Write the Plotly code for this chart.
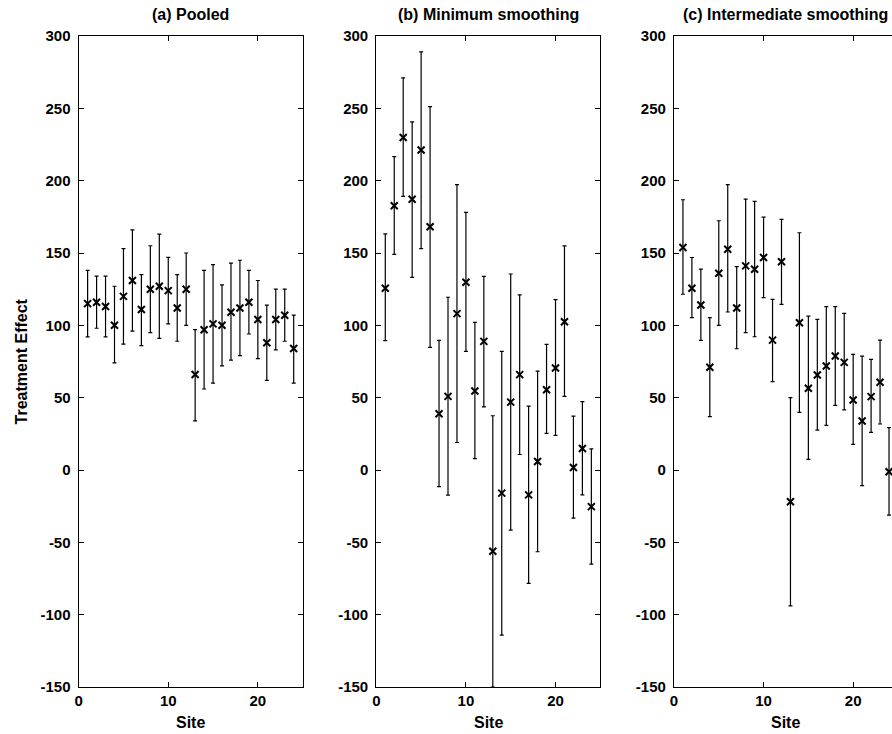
import plotly.graph_objects as go

sites = list(range(1, 25))

# (a) Pooled
est_a = [115, 116, 113, 100, 120, 131, 111, 125, 127, 124, 112, 125,
         66, 97, 101, 100, 109, 112, 116, 104, 88, 104, 107, 84]
up_a = [138, 134, 134, 127, 153, 166, 135, 155, 163, 147, 135, 150,
        97, 138, 142, 128, 143, 145, 138, 131, 114, 125, 125, 107]
lo_a = [92, 98, 92, 74, 87, 96, 86, 95, 91, 101, 89, 100,
        34, 56, 60, 72, 76, 79, 94, 77, 62, 83, 89, 60]

# (b) Minimum smoothing
est_b = [125.6, 182.7, 229.8, 187.1, 221.2, 168.1, 38.9, 50.9, 108.1, 129.8, 54.6, 88.9,
         -56.2, -16, 46.9, 65.9, -17.2, 5.9, 55.5, 70.5, 102.5, 1.7, 14.9, -25.3]
up_b = [163.2, 216.6, 271.1, 240.7, 289, 251.2, 89.6, 119.4, 197.3, 178.1, 102.1, 133.9,
        37.5, 82, 135.5, 121, 44.2, 68.4, 86.8, 117.8, 154.9, 37.2, 47.2, 14.6]
lo_b = [89.4, 149.1, 189.2, 133.2, 153, 84.8, -11.5, -17.3, 19, 82, 7.9, 43.7,
        -150, -114.2, -41.5, 10.7, -78.4, -56.5, 25.3, 23.9, 50.9, -33.2, -17.2, -65]

# (c) Intermediate smoothing
est_c = [153.8, 125.6, 114.1, 71, 136, 152.6, 112, 141.1, 138.8, 146.9, 89.8, 143.9,
         -22, 101.8, 56.5, 65.7, 71.9, 78.8, 74.4, 48.4, 33.9, 50.7, 60.6, -1.2]
up_c = [186.8, 146.9, 138.8, 105.3, 172.3, 197.2, 140.6, 187.3, 185.7, 174.8, 118, 173.2,
        50, 164, 106.4, 104.1, 112.9, 112.9, 108.3, 79.9, 78.7, 76.4, 89.8, 29.3]
lo_c = [121.5, 105.3, 89.6, 36.9, 100, 109.2, 83.8, 94.9, 92.1, 119.2, 61.1, 114.5,
        -93.9, 39.9, 7.4, 27.6, 30.9, 44.7, 41.5, 17.7, -10.8, 26, 31.8, -31.2]

titles = ["(a) Pooled", "(b) Minimum smoothing", "(c) Intermediate smoothing"]
x_ticks = [0, 10, 20]
y_ticks = [-150, -100, -50, 0, 50, 100, 150, 200, 250, 300]
y_tick_labels = ["-150", "-100", "-50", "0", "50", "100", "150", "200", "250", "300"]

W, H = 892, 734
FONT = "Liberation Sans, Arial, sans-serif"
TICK_SIZE = 15
LABEL_SIZE = 16

panels = [(est_a, up_a, lo_a), (est_b, up_b, lo_b), (est_c, up_c, lo_c)]
x_px = [(75, 300), (374, 599), (673, 892)]
x_ranges = [[0, 25], [0, 25], [0, (892 - 673) / 9.0]]

fig = go.Figure()
for i, (est, up, lo) in enumerate(panels):
    sfx = "" if i == 0 else str(i + 1)
    fig.add_trace(go.Scatter(
        x=sites, y=est, mode="markers",
        xaxis="x" + sfx, yaxis="y" + sfx,
        marker=dict(symbol="x-thin", size=7, color="black",
                    line=dict(width=2, color="black")),
        error_y=dict(type="data", symmetric=False,
                     array=[u - e for u, e in zip(up, est)],
                     arrayminus=[e - l for e, l in zip(est, lo)],
                     color="black", thickness=1.2, width=2),
        showlegend=False, cliponaxis=True,
    ))

tfont = dict(family=FONT, size=TICK_SIZE, color="black", weight="bold")
lfont = dict(family=FONT, size=LABEL_SIZE, color="black", weight="bold")

layout = dict(
    width=W, height=H,
    margin=dict(l=0, r=0, t=36, b=47, pad=0),
    plot_bgcolor="white", paper_bgcolor="white",
    font=tfont,
    showlegend=False,
)
annotations = []
for i in range(3):
    sfx = "" if i == 0 else str(i + 1)
    x0, x1 = x_px[i]
    layout["xaxis" + sfx] = dict(
        domain=[x0 / W, x1 / W], range=x_ranges[i], anchor="y" + sfx,
        tickvals=x_ticks, ticks="inside", ticklen=5, tickcolor="black",
        showline=True, linecolor="black", linewidth=1.2, mirror="ticks",
        showgrid=False, zeroline=False, tickfont=tfont,
    )
    layout["yaxis" + sfx] = dict(
        domain=[0, 1], range=[-150, 300], anchor="x" + sfx,
        tickvals=y_ticks, ticktext=y_tick_labels,
        ticks="inside", ticklen=5, tickcolor="black",
        showline=True, linecolor="black", linewidth=1.2,
        mirror="ticks" if i < 2 else False,
        showgrid=False, zeroline=False, ticklabelstandoff=4, tickfont=tfont,
    )
    cx = (x0 + (x0 + 225)) / 2.0
    annotations.append(dict(text=titles[i], xref="paper", yref="paper",
                            x=cx / W, y=(687 - 14) / 651.0, xanchor="center",
                            yanchor="middle", showarrow=False, font=lfont))
    annotations.append(dict(text="Site", xref="paper", yref="paper",
                            x=cx / W, y=(687 - 722) / 651.0, xanchor="center",
                            yanchor="middle", showarrow=False, font=lfont))
annotations.append(dict(text="Treatment Effect", xref="paper", yref="paper",
                        x=18 / W, y=0.5, xanchor="center", yanchor="middle",
                        textangle=-90, showarrow=False, font=lfont))
layout["annotations"] = annotations
fig.update_layout(**layout)

fig.write_html("out.html", config={"displayModeBar": False},
               post_script="document.body.style.margin='0';")
